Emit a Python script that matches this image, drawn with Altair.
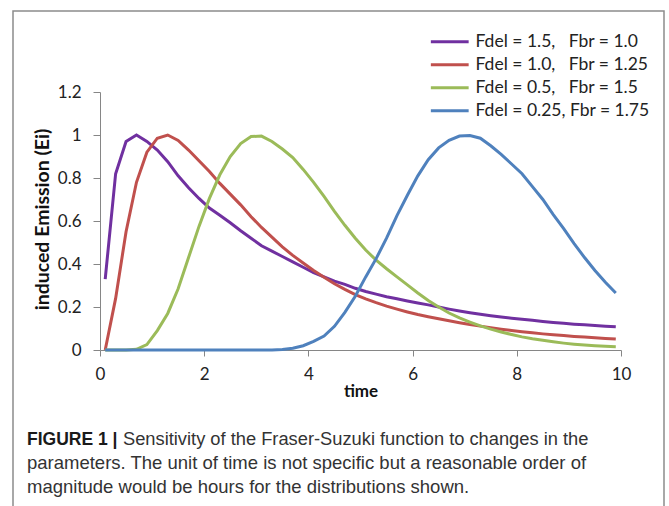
import altair as alt
import pandas as pd

# ---------------- data ----------------
time = [0.1, 0.3, 0.5, 0.7, 0.9, 1.1, 1.3, 1.5, 1.7, 1.9,
        2.1, 2.3, 2.5, 2.7, 2.9, 3.1, 3.3, 3.5, 3.7, 3.9,
        4.1, 4.3, 4.5, 4.7, 4.9, 5.1, 5.3, 5.5, 5.7, 5.9,
        6.1, 6.3, 6.5, 6.7, 6.9, 7.1, 7.3, 7.5, 7.7, 7.9,
        8.1, 8.3, 8.5, 8.7, 8.9, 9.1, 9.3, 9.5, 9.7, 9.9]

purple = [0.33, 0.82, 0.97, 1.0, 0.97, 0.93, 0.876, 0.81, 0.755, 0.705,
          0.66, 0.627, 0.592, 0.555, 0.52, 0.485, 0.46, 0.435, 0.41, 0.385,
          0.36, 0.34, 0.32, 0.305, 0.287, 0.272, 0.26, 0.248, 0.238, 0.228,
          0.219, 0.21, 0.2, 0.19, 0.181, 0.173, 0.166, 0.159, 0.153, 0.148,
          0.143, 0.138, 0.133, 0.128, 0.124, 0.12, 0.117, 0.114, 0.111, 0.108]

red = [0.0, 0.24, 0.55, 0.78, 0.92, 0.985, 1.0, 0.975, 0.93, 0.88,
       0.83, 0.775, 0.725, 0.675, 0.62, 0.57, 0.525, 0.48, 0.44, 0.405,
       0.37, 0.338, 0.308, 0.282, 0.258, 0.238, 0.22, 0.204, 0.19, 0.177,
       0.165, 0.155, 0.145, 0.136, 0.127, 0.119, 0.111, 0.104, 0.097, 0.091,
       0.085, 0.08, 0.075, 0.071, 0.067, 0.063, 0.06, 0.057, 0.054, 0.051]

green = [0.0, 0.0, 0.0, 0.003, 0.025, 0.09, 0.17, 0.285, 0.43, 0.575,
         0.705, 0.815, 0.9, 0.96, 0.993, 0.995, 0.97, 0.935, 0.895, 0.84,
         0.78, 0.715, 0.645, 0.58, 0.52, 0.465, 0.418, 0.378, 0.34, 0.303,
         0.265, 0.23, 0.2, 0.172, 0.149, 0.13, 0.112, 0.097, 0.084, 0.072,
         0.061, 0.052, 0.045, 0.038, 0.032, 0.027, 0.023, 0.02, 0.017, 0.015]

blue = [0.0, 0.0, 0.0, 0.0, 0.0, 0.0, 0.0, 0.0, 0.0, 0.0,
        0.0, 0.0, 0.0, 0.0, 0.0, 0.0, 0.0, 0.002, 0.008, 0.02,
        0.04, 0.065, 0.11, 0.175, 0.25, 0.34, 0.425, 0.52, 0.625, 0.72,
        0.81, 0.885, 0.94, 0.975, 0.995, 0.998, 0.985, 0.95, 0.91, 0.865,
        0.82, 0.76, 0.70, 0.63, 0.565, 0.495, 0.43, 0.37, 0.315, 0.265]

NB = "\u00a0"
series_names = [
    "Fdel = 1.5," + NB * 3 + "Fbr = 1.0",
    "Fdel = 1.0," + NB * 3 + "Fbr = 1.25",
    "Fdel = 0.5," + NB * 3 + "Fbr = 1.5",
    "Fdel = 0.25," + NB + "Fbr = 1.75",
]
series_colors = ["#7030A0", "#C0504D", "#9BBB59", "#4F81BD"]

y_ticks = [0, 0.2, 0.4, 0.6, 0.8, 1, 1.2]
x_ticks = [0, 2, 4, 6, 8, 10]

caption_bold = "FIGURE 1 |"
caption_line1 = "Sensitivity of the Fraser-Suzuki function to changes in the"
caption_rest = [
    "parameters. The unit of time is not specific but a reasonable order of",
    "magnitude would be hours for the distributions shown.",
]

rows = []
for name, vals in zip(series_names, [purple, red, green, blue]):
    for t, v in zip(time, vals):
        rows.append({"time": t, "value": v, "series": name})
df = pd.DataFrame(rows)

FONT = "Lato"
CAP_FONT = "Liberation Sans"
AXIS_GRAY = "#868686"

# ---------------- chart ----------------
lines = alt.Chart(df).mark_line(strokeWidth=3).encode(
    x=alt.X("time:Q",
            scale=alt.Scale(domain=[0, 10], nice=False, zero=False),
            axis=alt.Axis(values=x_ticks, format="d", title="time",
                          grid=False, domainColor=AXIS_GRAY, tickColor=AXIS_GRAY,
                          tickSize=6, labelFont=FONT, labelFontSize=17,
                          labelColor="#222", labelPadding=10, labelFlush=False,
                          titleFont=FONT, titleFontSize=17, titleFontWeight="bold",
                          titleColor="#111", titleY=46, titleBaseline="alphabetic")),
    y=alt.Y("value:Q",
            scale=alt.Scale(domain=[0, 1.2], nice=False),
            axis=alt.Axis(values=y_ticks, format="~g", title="induced Emission (Ei)",
                          grid=False, domainColor=AXIS_GRAY, tickColor=AXIS_GRAY,
                          tickSize=7, labelFont=FONT, labelFontSize=17,
                          labelColor="#222", labelPadding=12, labelFlush=False,
                          titleFont=FONT, titleFontSize=19.5, titleFontWeight="bold",
                          titleColor="#111", titleX=-58, titleY=127,
                          titleAngle=270, titleBaseline="middle", titleAlign="center")),
    color=alt.Color("series:N",
                    scale=alt.Scale(domain=series_names, range=series_colors),
                    legend=alt.Legend(title=None, orient="none", legendX=341, legendY=-59,
                                      symbolType="M-4.2,0H4.2", symbolSize=81,
                                      symbolStrokeWidth=3, labelFont=FONT,
                                      labelFontSize=17.5, labelColor="#222",
                                      labelLimit=400, rowPadding=4, padding=0,
                                      labelOffset=17)),
)

one = alt.Data(values=[{"k": 1}])

frame = alt.Chart(one).mark_rect(filled=False, stroke="#8c8c8c", strokeWidth=1.5).encode(
    x=alt.value(-87), x2=alt.value(564), y=alt.value(-81), y2=alt.value(500)
)

cap_b = alt.Chart(one).mark_text(
    text=caption_bold, font=CAP_FONT, fontSize=17.5, fontWeight="bold",
    align="left", baseline="alphabetic", color="#1a1a1a"
).encode(x=alt.value(-73), y=alt.value(353))

cap_1 = alt.Chart(one).mark_text(
    text=caption_line1, font=CAP_FONT, fontSize=18.3,
    align="left", baseline="alphabetic", color="#333"
).encode(x=alt.value(23), y=alt.value(353))

cap_2 = alt.Chart(one).mark_text(
    text=caption_rest, font=CAP_FONT, fontSize=18.5, lineHeight=24,
    align="left", baseline="alphabetic", color="#333"
).encode(x=alt.value(-73), y=alt.value(377))

chart = alt.layer(frame, lines, cap_b, cap_1, cap_2).properties(
    width=521, height=258,
    autosize=alt.AutoSizeParams(type="none"),
    padding={"left": 100, "top": 92, "right": 48, "bottom": 156},
    background="white",
).configure_view(strokeWidth=0)

chart.save("out.html", embed_options={"renderer": "svg", "actions": False})
